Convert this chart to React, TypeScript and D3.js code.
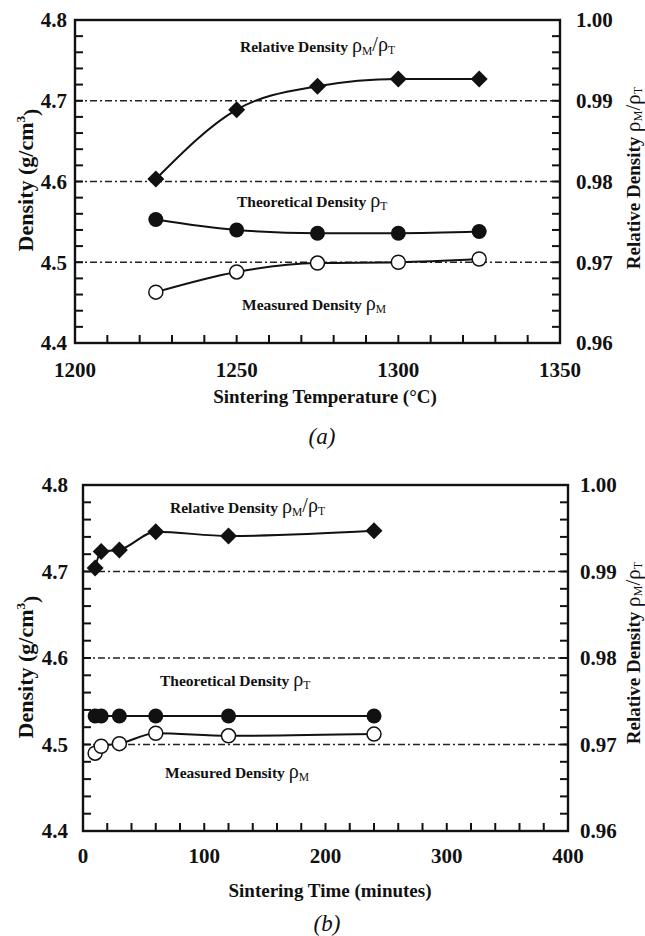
import React from "react";
import * as d3 from "d3";

// ---------- Data ----------
const tempX = [1225, 1250, 1275, 1300, 1325];
const tempRelative = [0.9803, 0.9889, 0.9918, 0.9927, 0.9927];
const tempTheoretical = [4.553, 4.54, 4.536, 4.536, 4.538];
const tempMeasured = [4.463, 4.488, 4.499, 4.5, 4.504];

const timeX = [10, 15, 30, 60, 120, 240];
const timeRelative = [0.9904, 0.9923, 0.9925, 0.9946, 0.9941, 0.9947];
const timeTheoretical = [4.533, 4.533, 4.533, 4.533, 4.533, 4.533];
const timeMeasured = [4.49, 4.498, 4.501, 4.513, 4.51, 4.512];

const densityTicks = [4.4, 4.5, 4.6, 4.7, 4.8];
const relTicks = [0.96, 0.97, 0.98, 0.99, 1.0];
const tempTicks = [1200, 1250, 1300, 1350];
const timeTicks = [0, 100, 200, 300, 400];
const gridValues = [4.5, 4.6, 4.7];

const FONT = "'Liberation Serif', 'Times New Roman', serif";

type PanelProps = {
  x0: number; x1: number; y0: number; y1: number;
  xDomain: [number, number];
  xTicks: number[]; xMinorStep: number;
  xs: number[]; rel: number[]; theo: number[]; meas: number[];
  xTitle: string; tag: string;
  leftLabelOff: number; rightLabelOff: number; xLabelOff: number;
  xTitleX: number; xTitleY: number; tagY: number;
  leftTitleX: number; leftTitleY: number;
  rightTitleX: number; rightTitleY: number;
  relLabel: [number, number]; theoLabel: [number, number]; measLabel: [number, number];
};

const rhoStyle = { fontWeight: "normal" as const, fontSize: "1.3em" };

function Panel(p: PanelProps) {
  const x = d3.scaleLinear().domain(p.xDomain).range([p.x0, p.x1]);
  const y = d3.scaleLinear().domain([4.4, 4.8]).range([p.y1, p.y0]);
  const yr = d3.scaleLinear().domain([0.96, 1.0]).range([p.y1, p.y0]);
  const line = d3.line<[number, number]>().x((d) => d[0]).y((d) => d[1]).curve(d3.curveMonotoneX);

  const relPts: [number, number][] = p.xs.map((v, i) => [x(v), yr(p.rel[i])]);
  const theoPts: [number, number][] = p.xs.map((v, i) => [x(v), y(p.theo[i])]);
  const measPts: [number, number][] = p.xs.map((v, i) => [x(v), y(p.meas[i])]);

  const nX = Math.round((p.xDomain[1] - p.xDomain[0]) / p.xMinorStep);
  const xMinor = d3.range(nX + 1).map((i) => p.xDomain[0] + i * p.xMinorStep);
  const yMinor = d3.range(21).map((i) => 4.4 + i * 0.02);
  const yrMinor = d3.range(21).map((i) => 0.96 + i * 0.002);
  const tl = 8;
  const ds = 8.5;

  return (
    <g fontFamily={FONT} fontWeight="bold" fill="#111">
      {gridValues.map((g) => (
        <line key={g} x1={p.x0} x2={p.x1} y1={y(g)} y2={y(g)} stroke="#222" strokeWidth={1.3} strokeDasharray="7 3 2 3" />
      ))}
      <rect x={p.x0} y={p.y0} width={p.x1 - p.x0} height={p.y1 - p.y0} fill="none" stroke="#111" strokeWidth={2.4} />
      {xMinor.map((v, i) => (
        <line key={"xt" + i} x1={x(v)} x2={x(v)} y1={p.y1} y2={p.y1 - tl} stroke="#111" strokeWidth={2} />
      ))}
      {yMinor.map((v, i) => (
        <line key={"yt" + i} x1={p.x0} x2={p.x0 + tl} y1={y(v)} y2={y(v)} stroke="#111" strokeWidth={2} />
      ))}
      {yrMinor.map((v, i) => (
        <line key={"yr" + i} x1={p.x1} x2={p.x1 - tl} y1={yr(v)} y2={yr(v)} stroke="#111" strokeWidth={2} />
      ))}

      {/* lines */}
      <path d={line(relPts) || ""} fill="none" stroke="#111" strokeWidth={2} />
      <path d={line(theoPts) || ""} fill="none" stroke="#111" strokeWidth={2} />
      <path d={line(measPts) || ""} fill="none" stroke="#111" strokeWidth={2} />

      {/* markers */}
      {relPts.map((d, i) => (
        <path key={"r" + i} d={`M${d[0]},${d[1] - ds}L${d[0] + ds},${d[1]}L${d[0]},${d[1] + ds}L${d[0] - ds},${d[1]}Z`} fill="#111" />
      ))}
      {theoPts.map((d, i) => (
        <circle key={"t" + i} cx={d[0]} cy={d[1]} r={7.5} fill="#111" />
      ))}
      {measPts.map((d, i) => (
        <circle key={"m" + i} cx={d[0]} cy={d[1]} r={7} fill="#fff" stroke="#111" strokeWidth={1.5} />
      ))}

      {/* tick labels */}
      {densityTicks.map((v) => (
        <text key={"dl" + v} x={p.x0 - p.leftLabelOff} y={y(v)} dy="0.35em" textAnchor="end" fontSize={21}>
          {v.toFixed(1)}
        </text>
      ))}
      {relTicks.map((v) => (
        <text key={"rl" + v} x={p.x1 + p.rightLabelOff} y={yr(v)} dy="0.35em" textAnchor="start" fontSize={21}>
          {v.toFixed(2)}
        </text>
      ))}
      {p.xTicks.map((v) => (
        <text key={"xl" + v} x={x(v)} y={p.y1 + p.xLabelOff} textAnchor="middle" fontSize={21}>
          {v}
        </text>
      ))}

      {/* in-plot labels */}
      <text x={p.relLabel[0]} y={p.relLabel[1]} fontSize={15.5}>
        Relative Density{"  "}
        <tspan style={rhoStyle}>ρ</tspan>
        <tspan fontWeight="normal" fontSize="0.75em" dy="0.3em">M</tspan>
        <tspan fontWeight="normal" fontSize="1.3em" dy="-0.23em">/ρ</tspan>
        <tspan fontWeight="normal" fontSize="0.75em" dy="0.3em">T</tspan>
      </text>
      <text x={p.theoLabel[0]} y={p.theoLabel[1]} fontSize={15.5}>
        Theoretical Density{"  "}
        <tspan style={rhoStyle}>ρ</tspan>
        <tspan fontWeight="normal" fontSize="0.75em" dy="0.3em">T</tspan>
      </text>
      <text x={p.measLabel[0]} y={p.measLabel[1]} fontSize={15.5}>
        Measured Density{"  "}
        <tspan style={rhoStyle}>ρ</tspan>
        <tspan fontWeight="normal" fontSize="0.75em" dy="0.3em">M</tspan>
      </text>

      {/* titles */}
      <text x={p.xTitleX} y={p.xTitleY} textAnchor="middle" fontSize={19}>{p.xTitle}</text>
      <text x={p.xTitleX - 3} y={p.tagY} textAnchor="middle" fontSize={23} fontWeight="normal" fontStyle="italic">
        ({p.tag})
      </text>
      <text transform={`translate(${p.leftTitleX},${p.leftTitleY}) rotate(-90)`} textAnchor="middle" fontSize={22}>
        Density (g/cm<tspan fontSize="0.6em" dy="-0.6em">3</tspan><tspan dy="0.6em">)</tspan>
      </text>
      <text transform={`translate(${p.rightTitleX},${p.rightTitleY}) rotate(-90)`} textAnchor="middle" fontSize={19}>
        Relative Density{"  "}
        <tspan fontWeight="normal" fontSize="1.1em">ρ</tspan>
        <tspan fontWeight="normal" fontSize="0.65em" dy="0.15em">M</tspan>
        <tspan fontWeight="normal" fontSize="1.1em" dy="-0.1em">/ρ</tspan>
        <tspan fontWeight="normal" fontSize="0.65em" dy="0.15em">T</tspan>
      </text>
    </g>
  );
}

export default function App() {
  return (
    <svg width={645} height={936} style={{ position: "absolute", left: 0, top: 0, background: "#fff" }}>
      <rect width={645} height={936} fill="#fff" />
      <Panel
        x0={75} x1={560} y0={20} y1={343}
        xDomain={[1200, 1350]} xTicks={tempTicks} xMinorStep={10}
        xs={tempX} rel={tempRelative} theo={tempTheoretical} meas={tempMeasured}
        xTitle="Sintering Temperature (°C)" tag="a"
        leftLabelOff={8} rightLabelOff={16} xLabelOff={34}
        xTitleX={325} xTitleY={403} tagY={444}
        leftTitleX={33} leftTitleY={180}
        rightTitleX={640} rightTitleY={178}
        relLabel={[240, 52]} theoLabel={[237, 207]} measLabel={[242, 310]}
      />
      <Panel
        x0={83} x1={568} y0={485} y1={831}
        xDomain={[0, 400]} xTicks={timeTicks} xMinorStep={20}
        xs={timeX} rel={timeRelative} theo={timeTheoretical} meas={timeMeasured}
        xTitle="Sintering Time (minutes)" tag="b"
        leftLabelOff={15} rightLabelOff={12} xLabelOff={32}
        xTitleX={330} xTitleY={897} tagY={931}
        leftTitleX={33} leftTitleY={667}
        rightTitleX={640} rightTitleY={653}
        relLabel={[170, 513]} theoLabel={[160, 686]} measLabel={[165, 778]}
      />
    </svg>
  );
}
